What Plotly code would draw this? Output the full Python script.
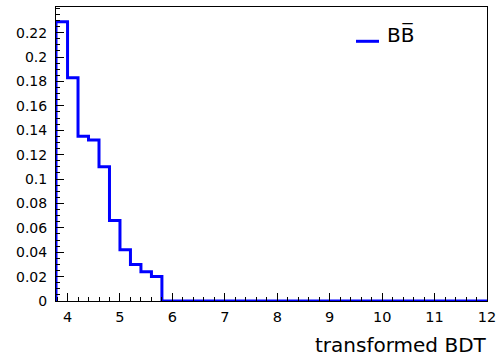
import plotly.graph_objects as go

# Histogram of the transformed BDT output for the B B-bar sample
bin_edges = [3.78, 4.0, 4.2, 4.4, 4.6, 4.8, 5.0, 5.2, 5.4, 5.6, 5.8,
             6.0, 6.2, 6.4, 6.6, 6.8, 7.0, 7.2, 7.4, 7.6, 7.8,
             8.0, 8.2, 8.4, 8.6, 8.8, 9.0, 9.2, 9.4, 9.6, 9.8,
             10.0, 10.2, 10.4, 10.6, 10.8, 11.0, 11.2, 11.4, 11.6, 11.8, 12.0]
bb_values = [0.229, 0.183, 0.135, 0.132, 0.110, 0.066, 0.042, 0.030, 0.024, 0.020,
             0.0, 0.0, 0.0, 0.0, 0.0, 0.0, 0.0, 0.0, 0.0, 0.0,
             0.0, 0.0, 0.0, 0.0, 0.0, 0.0, 0.0, 0.0, 0.0, 0.0,
             0.0, 0.0, 0.0, 0.0, 0.0, 0.0, 0.0, 0.0, 0.0, 0.0, 0.0]
x_ticks = [4, 5, 6, 7, 8, 9, 10, 11, 12]
y_ticks = [0, 0.02, 0.04, 0.06, 0.08, 0.1, 0.12, 0.14, 0.16, 0.18, 0.2, 0.22]
y_tick_text = ["0", "0.02", "0.04", "0.06", "0.08", "0.1", "0.12", "0.14",
               "0.16", "0.18", "0.2", "0.22"]
series_label = "BB\u0305"
x_title = "transformed BDT"

# Step outline: start at zero on the first edge, repeat last value for the final edge
step_x = [bin_edges[0]] + bin_edges
step_y = [0.0] + bb_values + [bb_values[-1]]

FONT = "DejaVu Sans, sans-serif"
BLUE = "#0000ff"

fig = go.Figure()
fig.add_trace(go.Scatter(
    x=step_x, y=step_y, mode="lines", line_shape="hv",
    line=dict(color=BLUE, width=3),
    name=series_label, showlegend=False,
))

# Legend box drawn ROOT-style: short line sample sitting at the text baseline
fig.add_shape(type="line", xref="paper", yref="paper",
              x0=(356 - 56) / 431, x1=(379 - 56) / 431,
              y0=(300.7 - 41) / 294, y1=(300.7 - 41) / 294,
              line=dict(color=BLUE, width=3))
fig.add_annotation(text=series_label, xref="paper", yref="paper",
                   x=(385 - 56) / 431, y=(300.7 - 34) / 294,
                   xanchor="left", yanchor="middle", showarrow=False,
                   font=dict(size=20, family=FONT, color="black"))

# Axis title aligned to the right end of the x axis
fig.add_annotation(text=x_title, xref="paper", yref="paper",
                   x=1, y=0, xanchor="right", yanchor="top", yshift=-30,
                   showarrow=False, xshift=2,
                   font=dict(size=20, family=FONT, color="black"))

fig.update_layout(
    width=503, height=362,
    margin=dict(l=56, r=16, t=7, b=61),
    paper_bgcolor="white", plot_bgcolor="white",
    font=dict(family=FONT, color="black", size=14),
    showlegend=False,
    xaxis=dict(
        range=[bin_edges[0], 12.0], tickvals=x_ticks,
        ticks="inside", ticklen=8, tickwidth=1, tickcolor="black",
        minor=dict(ticks="inside", ticklen=4, dtick=0.2, tick0=4, tickcolor="black"),
        showline=True, linecolor="black", linewidth=1, mirror=True,
        showgrid=False, zeroline=False,
        ticklabelstandoff=3,
        tickfont=dict(size=14.5),
    ),
    yaxis=dict(
        range=[0, 0.241], tickvals=y_ticks, ticktext=y_tick_text,
        ticks="inside", ticklen=8, tickwidth=1, tickcolor="black",
        minor=dict(ticks="inside", ticklen=4, dtick=0.005, tick0=0, tickcolor="black"),
        showline=True, linecolor="black", linewidth=1, mirror=True,
        showgrid=False, zeroline=False,
        ticklabelstandoff=5,
        tickfont=dict(size=14),
    ),
)

fig.write_html("out.html")
